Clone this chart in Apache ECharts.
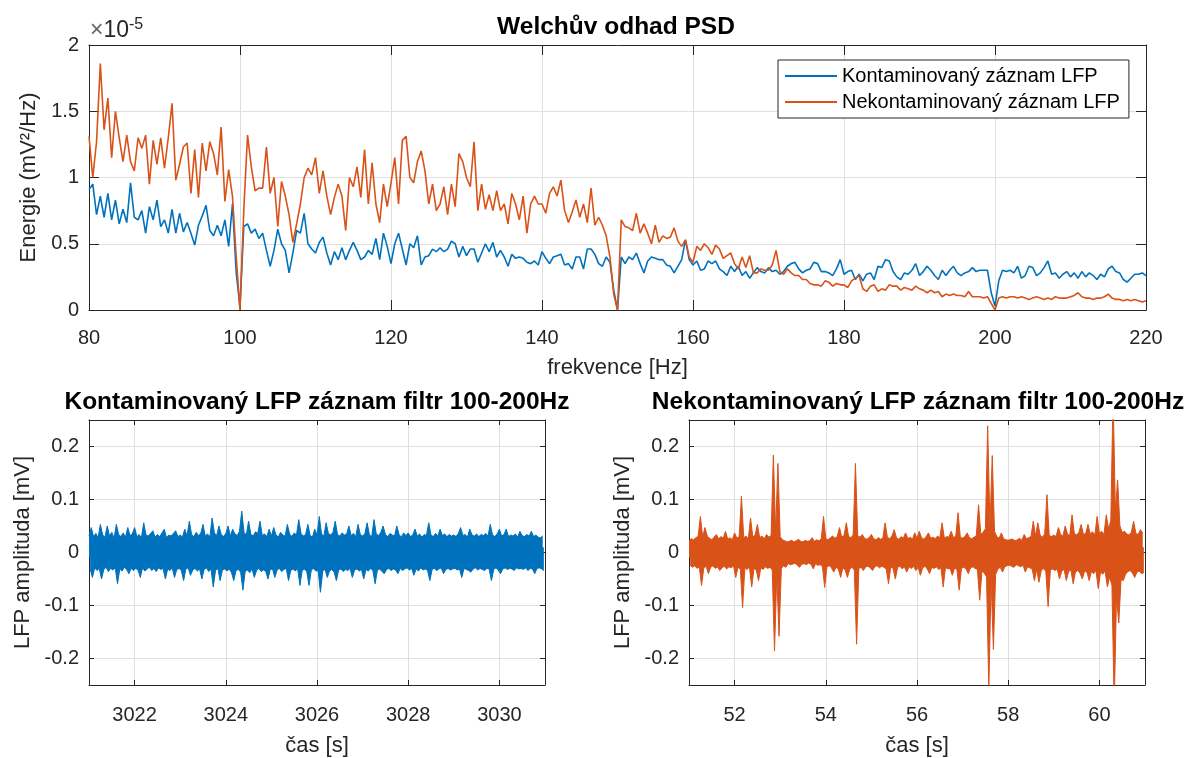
<!DOCTYPE html>
<html><head><meta charset="utf-8">
<script src="https://cdn.jsdelivr.net/npm/echarts@6/dist/echarts.min.js"></script>
<style>html,body{margin:0;padding:0;background:#fff}#c{width:1194px;height:758px}</style>
</head><body><div id="c"></div><script>
// ---------- PSD (values in units of 1e-5 mV^2/Hz) ----------
const freqStart = 80, freqStep = 0.5;
const psdContaminated = [
.91,.95,.72,.86,.70,.88,.68,.83,.65,.76,.66,.96,.70,.68,.75,.58,.78,.68,.83,.63,
.68,.58,.76,.58,.73,.59,.66,.58,.49,.64,.71,.79,.60,.56,.64,.56,.68,.48,.80,.28,
.02,.63,.65,.58,.61,.54,.58,.45,.33,.45,.61,.50,.45,.28,.43,.60,.58,.73,.50,.46,
.43,.51,.55,.43,.34,.44,.38,.47,.38,.45,.51,.45,.38,.40,.45,.42,.54,.38,.58,.48,
.35,.50,.58,.46,.34,.50,.47,.56,.34,.40,.41,.46,.44,.47,.44,.46,.52,.50,.40,.48,
.41,.46,.46,.36,.43,.50,.44,.51,.40,.45,.40,.33,.42,.39,.40,.39,.36,.35,.37,.34,
.44,.39,.35,.40,.41,.42,.34,.35,.31,.40,.40,.31,.46,.46,.42,.35,.33,.40,.36,.15,
.00,.40,.35,.40,.38,.43,.35,.28,.37,.40,.39,.38,.38,.34,.33,.28,.33,.38,.53,.38,
.34,.37,.30,.31,.37,.35,.37,.31,.29,.26,.33,.29,.33,.26,.29,.24,.28,.32,.29,.28,
.32,.29,.30,.27,.29,.33,.35,.36,.31,.28,.30,.31,.36,.35,.29,.29,.28,.26,.31,.38,
.27,.29,.30,.23,.27,.22,.27,.28,.23,.33,.32,.38,.37,.29,.25,.23,.28,.27,.30,.35,
.26,.29,.33,.30,.26,.23,.30,.26,.30,.33,.28,.26,.28,.29,.32,.29,.30,.30,.30,.13,
.03,.22,.30,.29,.30,.28,.33,.24,.26,.33,.32,.26,.28,.32,.37,.27,.28,.24,.27,.29,
.25,.28,.24,.29,.25,.28,.26,.23,.27,.25,.31,.33,.29,.28,.23,.21,.24,.27,.27,.28,
.26];
const psdClean = [
1.31,1.00,1.27,1.86,1.36,1.60,1.15,1.50,1.30,1.12,1.32,1.12,1.05,1.30,1.22,1.32,.95,1.28,1.10,1.30,
1.07,1.30,1.56,.98,1.10,1.23,1.26,.88,1.21,.85,1.26,1.05,1.27,1.18,1.02,1.38,.82,1.06,.86,.40,
.00,.75,1.32,1.08,.90,.92,.92,1.23,.88,1.00,.63,.97,.86,.72,.51,.65,.80,1.00,1.07,1.02,
1.15,.88,1.05,.86,.72,.85,.95,.86,.60,1.00,.93,1.08,.85,1.21,.80,1.11,.80,.66,.95,.78,
.96,1.15,.80,1.28,1.31,1.00,.96,1.12,1.20,1.05,.80,.95,.75,.80,.93,.72,.95,.78,1.18,1.12,
1.00,.93,1.27,.75,.95,.76,.87,.75,.90,.75,.80,.65,.88,.80,.68,.86,.58,.80,.86,.80,
.80,.73,.88,.93,.86,.98,.75,.66,.74,.83,.70,.80,.66,.92,.64,.70,.64,.56,.40,.12,
.00,.68,.63,.62,.60,.73,.58,.65,.58,.50,.64,.51,.56,.54,.55,.62,.52,.48,.53,.40,
.36,.48,.45,.50,.47,.42,.49,.46,.39,.41,.43,.35,.31,.40,.32,.41,.28,.28,.31,.30,
.30,.34,.45,.29,.27,.31,.28,.26,.26,.23,.23,.20,.19,.19,.18,.22,.21,.18,.20,.19,
.19,.17,.22,.24,.26,.16,.14,.18,.19,.14,.16,.15,.19,.18,.18,.15,.17,.16,.15,.18,
.16,.15,.13,.15,.13,.14,.10,.12,.11,.12,.11,.11,.10,.14,.10,.10,.10,.09,.10,.05,
.00,.09,.10,.09,.10,.10,.09,.10,.09,.08,.09,.10,.09,.08,.09,.08,.10,.09,.09,.09,
.10,.11,.13,.10,.09,.09,.08,.09,.09,.10,.12,.09,.08,.08,.07,.08,.07,.08,.07,.06,
.07];
const psdYTicks = [0, 0.5, 1, 1.5, 2];

// ---------- filtered traces: per-bin max / min (mV), bins of 0.05 s ----------
const binStep = 0.05;
const leftStart = 3021;
const leftUpper = [
.032,.047,.030,.036,.028,.053,.033,.029,.050,.031,.038,.027,.053,.034,.030,.037,.029,.047,.032,.035,
.047,.030,.034,.028,.056,.033,.031,.036,.041,.029,.034,.030,.037,.044,.028,.033,.031,.036,.041,.030,
.033,.029,.044,.031,.059,.034,.030,.038,.032,.036,.053,.031,.035,.029,.065,.037,.032,.050,.034,.030,
.036,.050,.031,.044,.035,.032,.040,.078,.038,.033,.059,.034,.031,.039,.036,.059,.032,.035,.030,.044,
.031,.047,.034,.029,.038,.033,.031,.053,.035,.030,.037,.033,.062,.036,.031,.034,.053,.032,.029,.044,
.033,.068,.035,.031,.056,.036,.033,.038,.059,.034,.031,.037,.033,.035,.050,.032,.036,.030,.053,.034,
.031,.036,.056,.033,.030,.062,.035,.032,.038,.050,.034,.030,.036,.033,.031,.050,.034,.029,.037,.032,
.037,.030,.033,.044,.031,.035,.029,.034,.032,.056,.033,.030,.036,.031,.044,.032,.035,.030,.034,.031,
.033,.030,.036,.047,.032,.034,.029,.044,.033,.031,.035,.030,.034,.032,.036,.031,.053,.033,.030,.035,
.044,.031,.034,.044,.030,.033,.031,.035,.029,.040,.032,.030,.034,.031,.040,.030,.033,.029,.028,.031];
const leftLower = [
-.031,-.047,-.029,-.034,-.030,-.050,-.032,-.028,-.036,-.030,-.033,-.029,-.059,-.031,-.035,-.028,-.032,-.040,-.030,-.034,
-.030,-.033,-.047,-.029,-.035,-.031,-.028,-.034,-.030,-.036,-.029,-.032,-.030,-.050,-.031,-.034,-.029,-.047,-.032,-.030,
-.034,-.053,-.031,-.029,-.043,-.033,-.030,-.035,-.031,-.050,-.032,-.029,-.036,-.031,-.065,-.034,-.030,-.053,-.033,-.031,
-.035,-.031,-.038,-.053,-.034,-.032,-.037,-.071,-.036,-.033,-.038,-.031,-.047,-.034,-.030,-.036,-.033,-.035,-.050,-.032,
-.031,-.047,-.033,-.030,-.036,-.032,-.030,-.053,-.034,-.031,-.035,-.030,-.062,-.034,-.031,-.036,-.062,-.033,-.030,-.035,
-.034,-.075,-.036,-.031,-.047,-.035,-.032,-.037,-.053,-.033,-.031,-.036,-.032,-.034,-.030,-.047,-.033,-.031,-.035,-.032,
-.050,-.032,-.035,-.030,-.034,-.059,-.033,-.031,-.036,-.040,-.032,-.030,-.034,-.031,-.033,-.040,-.030,-.034,-.031,-.029,
-.033,-.030,-.043,-.031,-.035,-.029,-.033,-.031,-.034,-.053,-.032,-.030,-.034,-.031,-.029,-.040,-.032,-.030,-.033,-.031,
-.030,-.033,-.031,-.047,-.030,-.032,-.034,-.037,-.031,-.029,-.033,-.030,-.032,-.034,-.030,-.031,-.053,-.032,-.029,-.033,
-.040,-.031,-.029,-.032,-.030,-.031,-.034,-.029,-.031,-.030,-.032,-.029,-.034,-.030,-.031,-.040,-.030,-.029,-.031,-.034];
const rightStart = 51;
const rightUpper = [
.022,.026,.024,.028,.030,.068,.029,.047,.031,.027,.024,.029,.034,.026,.030,.027,.040,.025,.028,.024,
.037,.027,.030,.106,.028,.031,.026,.065,.029,.033,.053,.028,.031,.026,.034,.029,.032,.184,.040,.168,
.030,.024,.022,.020,.021,.023,.020,.022,.025,.021,.020,.023,.021,.022,.028,.021,.024,.022,.026,.068,
.026,.024,.028,.031,.027,.030,.047,.029,.032,.056,.030,.028,.033,.168,.031,.029,.034,.027,.025,.028,
.034,.026,.024,.028,.025,.027,.056,.029,.026,.031,.043,.028,.025,.030,.027,.037,.026,.029,.025,.037,
.027,.040,.028,.025,.030,.037,.027,.029,.026,.031,.028,.056,.027,.030,.029,.040,.028,.031,.075,.029,
.027,.030,.037,.028,.026,.029,.031,.090,.034,.038,.045,.239,.050,.183,.040,.030,.027,.037,.026,.024,
.023,.025,.025,.022,.024,.027,.023,.034,.026,.028,.030,.059,.031,.056,.033,.029,.035,.109,.032,.030,
.033,.030,.047,.034,.031,.050,.035,.032,.071,.036,.033,.038,.053,.034,.036,.053,.035,.039,.033,.068,
.036,.040,.034,.071,.045,.060,.300,.080,.137,.050,.038,.040,.035,.033,.038,.059,.036,.034,.043,.037];
const rightLower = [
-.024,-.028,-.025,-.030,-.027,-.062,-.029,-.026,-.040,-.028,-.025,-.030,-.027,-.034,-.029,-.026,-.031,-.027,-.029,-.025,
-.047,-.028,-.031,-.104,-.029,-.032,-.027,-.065,-.030,-.033,-.053,-.029,-.032,-.027,-.030,-.028,-.033,-.186,-.042,-.158,
-.030,-.025,-.028,-.021,-.023,-.022,-.020,-.024,-.028,-.022,-.021,-.023,-.020,-.022,-.031,-.021,-.024,-.023,-.026,-.066,
-.027,-.025,-.029,-.037,-.028,-.031,-.047,-.029,-.033,-.047,-.031,-.028,-.033,-.173,-.030,-.028,-.034,-.027,-.026,-.029,
-.034,-.027,-.025,-.029,-.026,-.028,-.031,-.059,-.027,-.030,-.050,-.028,-.026,-.031,-.027,-.037,-.027,-.030,-.026,-.034,
-.028,-.043,-.029,-.026,-.031,-.040,-.028,-.030,-.027,-.032,-.029,-.065,-.028,-.031,-.030,-.043,-.029,-.032,-.071,-.030,
-.028,-.031,-.040,-.029,-.027,-.030,-.032,-.090,-.035,-.039,-.046,-.260,-.052,-.183,-.041,-.031,-.028,-.037,-.027,-.025,
-.024,-.026,-.028,-.023,-.025,-.027,-.024,-.037,-.027,-.029,-.031,-.053,-.032,-.056,-.034,-.030,-.036,-.102,-.033,-.031,
-.034,-.031,-.050,-.035,-.032,-.053,-.036,-.033,-.059,-.037,-.034,-.039,-.050,-.035,-.037,-.053,-.036,-.040,-.034,-.068,
-.037,-.041,-.035,-.065,-.046,-.062,-.290,-.082,-.133,-.051,-.053,-.041,-.036,-.034,-.039,-.047,-.037,-.035,-.040,-.038];
const leftTimeTicks = [3022, 3024, 3026, 3028, 3030];
const rightTimeTicks = [52, 54, 56, 58, 60];
const ampTicks = [-0.2, -0.1, 0, 0.1, 0.2];

const NAME_C = 'Kontaminovaný záznam LFP';
const NAME_N = 'Nekontaminovaný záznam LFP';
const BLUE = '#0072BD', ORANGE = '#D95319';
const INK = '#262626', GRID = '#dfdfdf';
const FONT = '"Liberation Sans", Arial, Helvetica, sans-serif';

const psdPairs = arr => arr.map((v, i) => [freqStart + i * freqStep, v]);
// per-bin extremes: maxima at the bin start, minima half a bin later
const binPairs = (t0, arr, shift) => arr.map((v, i) => [t0 + i * binStep + shift, v]);
const plain = v => String(v);

function tick(len, custom) {
  const t = {show: true, inside: true, length: len, lineStyle: {color: INK, width: 1}};
  if (custom) t.customValues = custom;
  return t;
}
function label(custom) {
  const l = {fontSize: 20, color: INK, fontFamily: FONT, formatter: plain};
  if (custom) l.customValues = custom;
  return l;
}
const axisLine = {show: true, onZero: false, lineStyle: {color: INK, width: 1}};
const nameStyle = {fontSize: 22, color: INK, fontFamily: FONT};

function mainX(grid, min, max, extra) {
  return Object.assign({
    type: 'value', gridIndex: grid, min, max, position: 'bottom', axisLine,
    splitLine: {show: true, lineStyle: {color: GRID, width: 1}},
    nameLocation: 'middle', nameTextStyle: nameStyle
  }, extra);
}
function topX(grid, min, max, extra) {
  return Object.assign({
    type: 'value', gridIndex: grid, min, max, position: 'top', axisLine,
    axisLabel: {show: false}, splitLine: {show: false}
  }, extra);
}
function mainY(grid, min, max, extra) {
  return Object.assign({
    type: 'value', gridIndex: grid, min, max, position: 'left', axisLine,
    splitLine: {show: true, lineStyle: {color: GRID, width: 1}},
    nameLocation: 'middle', nameTextStyle: nameStyle
  }, extra);
}
function rightY(grid, min, max, extra) {
  return Object.assign({
    type: 'value', gridIndex: grid, min, max, position: 'right', axisLine,
    axisLabel: {show: false}, splitLine: {show: false}
  }, extra);
}
// filled envelope half; origin slightly past zero so the two halves overlap (no seam)
function traceSeries(xi, yi, data, color, origin) {
  return {type: 'line', xAxisIndex: xi, yAxisIndex: yi, data, symbol: 'none', clip: true,
    lineStyle: {color, width: 1}, areaStyle: {color, opacity: 1, origin},
    itemStyle: {color}, emphasis: {disabled: true}};
}

const chart = echarts.init(document.getElementById('c'), null, {renderer: 'canvas'});
const titleStyle = {fontSize: 24.5, fontWeight: 'bold', color: '#000', fontFamily: FONT};
chart.setOption({
  animation: false,
  backgroundColor: '#fff',
  textStyle: {fontFamily: FONT},
  title: [
    {text: 'Welchův odhad PSD', left: 616, top: 15, textAlign: 'center', padding: 0, textStyle: titleStyle},
    {text: 'Kontaminovaný LFP záznam filtr 100-200Hz', left: 317, top: 390, textAlign: 'center', padding: 0, textStyle: titleStyle},
    {text: 'Nekontaminovaný LFP záznam filtr 100-200Hz', left: 918, top: 390, textAlign: 'center', padding: 0, textStyle: titleStyle}
  ],
  grid: [
    {left: 89, top: 45, width: 1057, height: 265},
    {left: 89, top: 420, width: 456, height: 266},
    {left: 689, top: 420, width: 456, height: 266}
  ],
  legend: {
    data: [NAME_C, NAME_N], orient: 'vertical', left: 778, top: 60,
    icon: 'rect', itemWidth: 52, itemHeight: 2,
    padding: [6, 9, 6, 7], itemGap: 6,
    backgroundColor: '#fff', borderColor: INK, borderWidth: 1, borderRadius: 0,
    textStyle: {fontSize: 20, color: '#000', fontFamily: FONT}
  },
  xAxis: [
    mainX(0, 80, 220, {interval: 20, name: 'frekvence [Hz]', nameGap: 47,
      axisTick: tick(10), axisLabel: Object.assign(label(), {margin: 18})}),
    topX(0, 80, 220, {interval: 20, axisTick: tick(10)}),
    mainX(1, 3021, 3031, {name: 'čas [s]', nameGap: 50,
      axisTick: tick(5, leftTimeTicks), axisLabel: Object.assign(label(leftTimeTicks), {margin: 20})}),
    topX(1, 3021, 3031, {axisTick: tick(5, leftTimeTicks)}),
    mainX(2, 51, 61, {name: 'čas [s]', nameGap: 50,
      axisTick: tick(5, rightTimeTicks), axisLabel: Object.assign(label(rightTimeTicks), {margin: 20})}),
    topX(2, 51, 61, {axisTick: tick(5, rightTimeTicks)})
  ],
  yAxis: [
    mainY(0, 0, 2, {interval: 0.5, name: 'Energie (mV²/Hz)', nameGap: 47,
      axisTick: tick(10), axisLabel: Object.assign(label(psdYTicks), {margin: 10})}),
    rightY(0, 0, 2, {interval: 0.5, axisTick: tick(10)}),
    mainY(1, -0.25, 0.25, {name: 'LFP amplituda [mV]', nameGap: 55,
      axisTick: tick(5, ampTicks), axisLabel: Object.assign(label(ampTicks), {margin: 10})}),
    rightY(1, -0.25, 0.25, {axisTick: tick(5, ampTicks)}),
    mainY(2, -0.25, 0.25, {name: 'LFP amplituda [mV]', nameGap: 55,
      axisTick: tick(5, ampTicks), axisLabel: Object.assign(label(ampTicks), {margin: 10})}),
    rightY(2, -0.25, 0.25, {axisTick: tick(5, ampTicks)})
  ],
  graphic: [{
    type: 'text', left: 90, top: 17, silent: true,
    style: {
      text: '{x|×}{a|10}{b|-5}',
      rich: {
        x: {fontSize: 23, fill: '#666', color: '#666', fontFamily: FONT},
        a: {fontSize: 23, fill: INK, color: INK, fontFamily: FONT},
        b: {fontSize: 16, fill: INK, color: INK, fontFamily: FONT, padding: [0, 0, 12, 0]}
      }
    }
  }],
  series: [
    {name: NAME_C, type: 'line', xAxisIndex: 0, yAxisIndex: 0, data: psdPairs(psdContaminated),
      symbol: 'none', lineStyle: {color: BLUE, width: 1.6}, itemStyle: {color: BLUE}, z: 3},
    {name: NAME_N, type: 'line', xAxisIndex: 0, yAxisIndex: 0, data: psdPairs(psdClean),
      symbol: 'none', lineStyle: {color: ORANGE, width: 1.6}, itemStyle: {color: ORANGE}, z: 4},
    traceSeries(2, 2, binPairs(leftStart, leftUpper, 0), BLUE, -0.01),
    traceSeries(2, 2, binPairs(leftStart, leftLower, binStep / 2), BLUE, 0.01),
    traceSeries(4, 4, binPairs(rightStart, rightUpper, 0), ORANGE, -0.01),
    traceSeries(4, 4, binPairs(rightStart, rightLower, binStep / 2), ORANGE, 0.01)
  ]
});
</script></body></html>
